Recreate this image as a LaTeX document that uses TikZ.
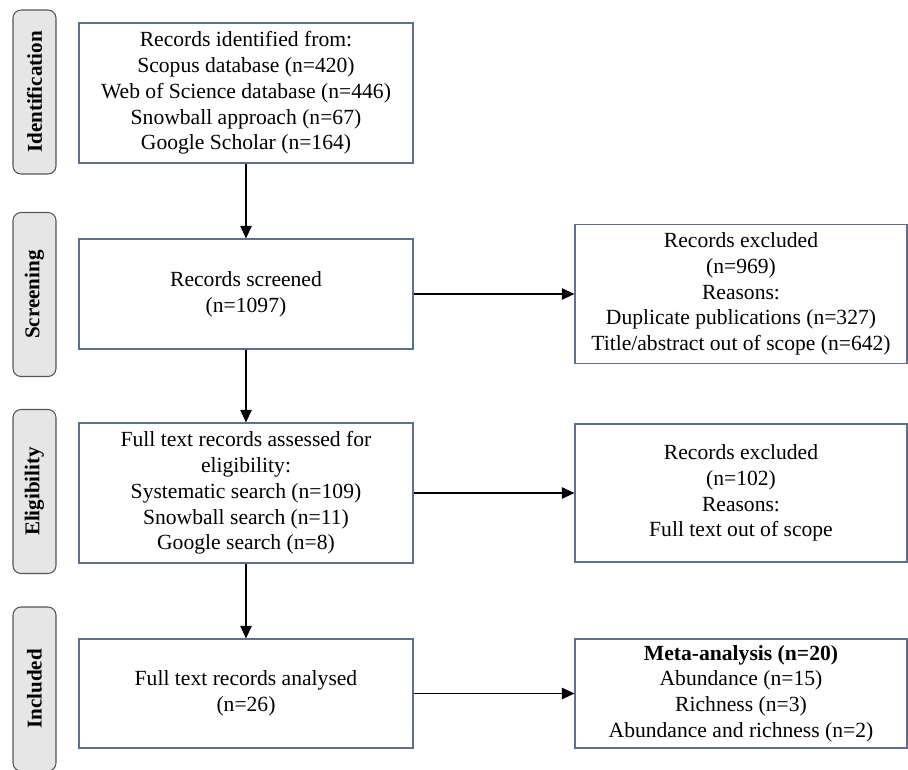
\documentclass[tikz,border=0pt]{standalone}
\usepackage{fontspec}
\setmainfont{Liberation Serif}
\usepackage{tikz}
\usetikzlibrary{shapes,arrows.meta,calc,positioning}
\definecolor{boxline}{RGB}{92,112,150}
\definecolor{phasefill}{RGB}{230,230,230}
\definecolor{phaseline}{RGB}{85,85,85}
\tikzset{box/.style={draw=boxline, line width=0.8pt, rectangle, align=center, inner sep=2pt, font=\fontsize{16.2pt}{19.3pt}\selectfont}}
\tikzstyle{phase}=[draw=phaseline, fill=phasefill, line width=0.8pt, rectangle, rounded corners=6pt, rotate=90, minimum width=123pt, minimum height=32.25pt, inner sep=0pt, font=\fontsize{15.8pt}{18pt}\selectfont\bfseries]
\tikzstyle{lbox}=[box, minimum width=250.5pt]
\tikzstyle{rbox}=[box, minimum width=249pt]

\begin{document}
\begin{tikzpicture}[x=0.75pt, y=-0.75pt, >={Triangle[length=9.5pt,width=8.5pt]}, line width=1.4pt]
\useasboundingbox (0,0) rectangle (908,769);
% phases on the left
\node[phase] (P1) at (34.5,92) {Identification};
\node[phase] (P2) at (34.5,294.5) {Screening};
\node[phase] (P3) at (34.5,491.5) {Eligibility};
\node[phase] (P4) at (34.5,689) {Included};
% main column
\node[lbox, minimum height=105pt] (Id) at (246,93) {Records identified from:\\ Scopus database (n=420)\\ Web of Science database (n=446)\\ Snowball approach (n=67)\\ Google Scholar (n=164)};
\node[lbox, minimum height=82.5pt] (Scr) at (246,294) {Records screened\\ (n=1097)};
\node[lbox, minimum height=105pt] (Elig) at (246,493) {Full text records assessed for\\ eligibility:\\ Systematic search (n=109)\\ Snowball search (n=11)\\ Google search (n=8)};
\node[lbox, minimum height=81.75pt] (Inc) at (246,693.5) {Full text records analysed\\ (n=26)};
% right column
\node[rbox, minimum height=104.25pt] (Ex1) at (741,294) {Records excluded\\ (n=969)\\ Reasons:\\ Duplicate publications (n=327)\\ Title/abstract out of scope (n=642)};
\node[rbox, minimum height=103.5pt] (Ex2) at (741,493) {Records excluded\\ (n=102)\\ Reasons:\\ Full text out of scope};
\node[rbox, minimum height=81.75pt] (Meta) at (741,693.5) {\textbf{Meta-analysis (n=20)}\\ Abundance (n=15)\\ Richness (n=3)\\ Abundance and richness (n=2)};
\path[->](Id) edge (Scr)
	(Scr) edge (Elig)
		edge (Ex1)
	(Elig) edge (Inc)
		edge (Ex2)
	(Inc) edge (Meta);
\end{tikzpicture}
\end{document}
